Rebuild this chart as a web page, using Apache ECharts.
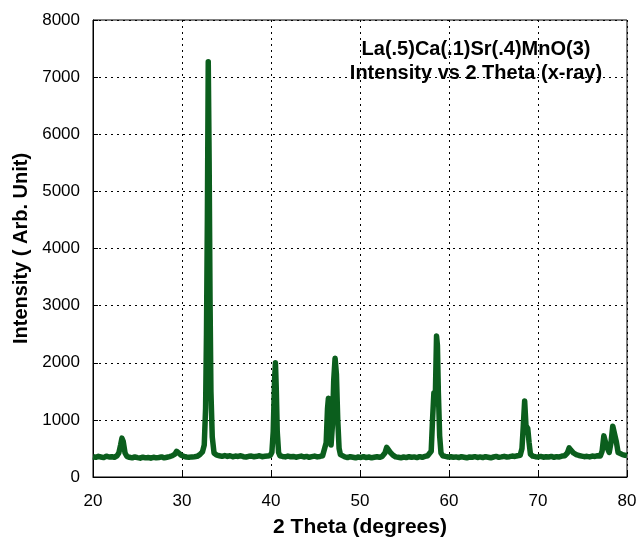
<!DOCTYPE html>
<html><head><meta charset="utf-8">
<script src="https://cdn.jsdelivr.net/npm/echarts@6/dist/echarts.min.js"></script>
<style>html,body{margin:0;padding:0;background:#fff}#c{width:636px;height:538px}</style>
</head><body><div id="c"></div>
<script>
const theta = [
20.0,20.3,20.6,20.9,21.2,21.5,21.8,22.1,22.4,22.7,22.9,23.1,23.25,23.4,23.6,23.8,24.1,24.4,24.7,25.0,
25.3,25.6,25.9,26.2,26.5,26.8,27.1,27.4,27.7,28.0,28.3,28.6,28.9,29.2,29.4,29.6,29.9,30.2,30.5,30.8,
31.1,31.4,31.7,32.0,32.3,32.5,32.65,32.75,32.85,32.95,33.05,33.15,33.25,33.4,33.6,33.9,34.2,34.5,34.8,35.1,
35.4,35.7,36.0,36.3,36.6,36.9,37.2,37.5,37.8,38.1,38.4,38.7,39.0,39.3,39.6,39.9,40.1,40.25,40.4,40.5,
40.6,40.7,40.85,41.0,41.3,41.6,41.9,42.2,42.5,42.8,43.1,43.4,43.7,44.0,44.3,44.6,44.9,45.2,45.5,45.8,
46.0,46.2,46.35,46.45,46.6,46.75,46.9,47.05,47.2,47.35,47.5,47.65,47.8,48.0,48.3,48.6,48.9,49.2,49.5,49.8,
50.1,50.4,50.7,51.0,51.3,51.6,51.9,52.2,52.5,52.8,53.0,53.2,53.4,53.7,54.0,54.3,54.6,54.9,55.2,55.5,
55.8,56.1,56.4,56.7,57.0,57.3,57.6,57.8,58.0,58.15,58.3,58.45,58.6,58.7,58.8,58.95,59.1,59.3,59.6,59.9,
60.2,60.5,60.8,61.1,61.4,61.7,62.0,62.3,62.6,62.9,63.2,63.5,63.8,64.1,64.4,64.7,65.0,65.3,65.6,65.9,
66.2,66.5,66.8,67.1,67.4,67.7,68.0,68.2,68.35,68.5,68.65,68.85,69.0,69.15,69.4,69.7,70.0,70.3,70.6,70.9,
71.2,71.5,71.8,72.1,72.4,72.7,73.0,73.3,73.5,73.7,74.0,74.3,74.6,74.9,75.2,75.5,75.8,76.1,76.4,76.7,
77.0,77.2,77.4,77.6,77.8,78.0,78.2,78.4,78.6,78.8,79.0,79.2,79.5,79.8,80.0
];
const intensity = [
355,345,362,350,340,365,350,356,345,372,420,560,680,620,420,362,345,335,352,340,
330,347,335,342,330,346,335,342,352,335,346,357,372,400,450,420,382,362,350,345,
352,356,362,392,440,560,1200,2500,4500,7270,5500,3100,1500,700,420,382,372,362,376,360,
372,355,366,360,372,356,350,362,366,355,362,372,356,362,366,376,430,800,1700,2000,
1500,800,430,372,360,352,366,355,360,346,356,366,350,360,345,356,366,352,360,372,
385,600,1200,1380,1200,560,900,1700,2080,1800,1000,500,392,362,352,340,355,345,336,350,
342,355,340,350,336,346,355,345,362,420,520,500,432,382,352,345,336,350,340,355,
345,352,340,356,345,360,372,380,450,1000,1470,1300,2470,2300,1500,720,420,372,360,350,
356,345,352,340,355,346,336,350,345,356,342,352,340,355,346,336,350,360,345,352,
362,350,356,366,360,372,380,500,900,1330,900,850,600,400,366,356,350,360,346,355,
350,360,345,356,352,366,372,420,510,470,420,392,376,366,356,362,352,366,360,372,
366,450,720,600,500,430,600,890,880,620,430,400,392,380,375
];
const xTicks = [20,30,40,50,60,70,80];
const yTicks = [0,1000,2000,3000,4000,5000,6000,7000,8000];
const titleLines = ['La(.5)Ca(.1)Sr(.4)MnO(3)','Intensity vs 2 Theta (x-ray)'];

const chart = echarts.init(document.getElementById('c'));
const data = theta.map((t,i)=>[t,intensity[i]]);
const font = 'Liberation Sans, Arial, sans-serif';
chart.setOption({
  animation:false,
  backgroundColor:'#fff',
  grid:{left:93,right:9,top:20,bottom:61,show:true,borderColor:'#000',borderWidth:1,
    containLabel:false,outerBoundsMode:'none'},
  title:{text:titleLines.join('\n'),left:471,top:32,textAlign:'center',
    textStyle:{fontFamily:font,fontSize:20,fontWeight:'bold',color:'#000',lineHeight:24}},
  xAxis:{type:'value',min:xTicks[0],max:xTicks[xTicks.length-1],interval:10,
    name:'2 Theta (degrees)',nameLocation:'middle',nameGap:40,
    nameTextStyle:{fontFamily:font,fontSize:21,fontWeight:'bold',color:'#000'},
    axisLine:{lineStyle:{color:'#000'}},axisTick:{inside:true,length:5,lineStyle:{color:'#000'}},
    axisLabel:{fontFamily:font,fontSize:17,color:'#000',margin:16,formatter:v=>String(v)},
    splitLine:{show:true,lineStyle:{color:'#000',type:[2,4],width:1}}},
  yAxis:{type:'value',min:yTicks[0],max:yTicks[yTicks.length-1],interval:1000,
    name:'Intensity ( Arb. Unit)',nameLocation:'middle',nameGap:62,
    nameTextStyle:{fontFamily:font,fontSize:20,fontWeight:'bold',color:'#000'},
    axisLine:{show:true,lineStyle:{color:'#000'}},axisTick:{show:true,inside:true,length:5,lineStyle:{color:'#000'}},
    axisLabel:{fontFamily:font,fontSize:17,color:'#000',margin:13,formatter:v=>String(v)},
    splitLine:{show:true,lineStyle:{color:'#000',type:[2,4],width:1}}},
  series:[{type:'line',data:data,showSymbol:false,symbol:'none',
    lineStyle:{color:'#0b5e1d',width:5.5,join:'round'},z:3}]
});
</script></body></html>
